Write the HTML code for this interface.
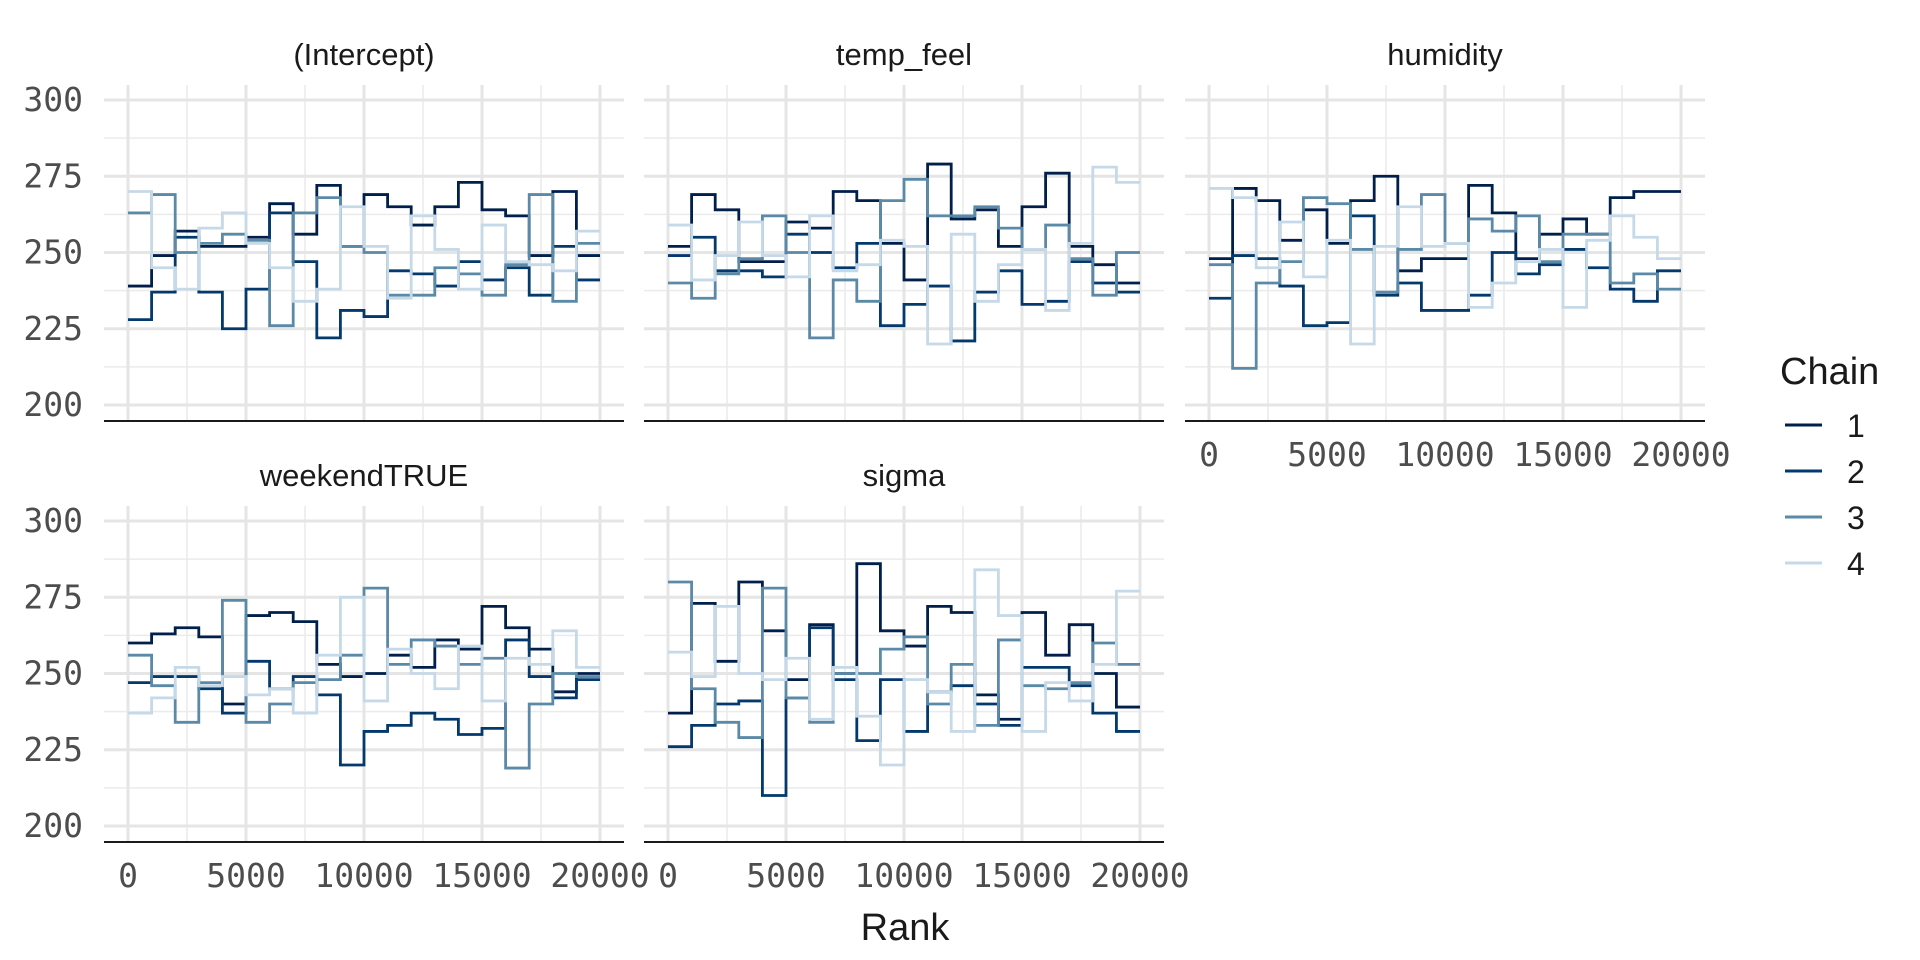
<!DOCTYPE html>
<html><head><meta charset="utf-8"><style>
html,body{margin:0;padding:0;background:#fff;width:1920px;height:960px;overflow:hidden}
svg text{font-family:"Liberation Sans",sans-serif}
.tick{font-family:"DejaVu Sans Mono","Liberation Mono",monospace;font-size:33px;fill:#4d4d4d}
</style></head><body>
<svg id="chart" width="1920" height="960" xmlns="http://www.w3.org/2000/svg"></svg>
<script>
const panelNames = ["(Intercept)","temp_feel","humidity","weekendTRUE","sigma"];
const chainLabels = ["1","2","3","4"];
const chainColors = ["#011f4b","#03396c","#5b8aa8","#c6d9e8"];
const yTicks = [200,225,250,275,300];
const xTicks = [0,5000,10000,15000,20000];
// values per panel per chain (20 bins of 1000 ranks)
const interceptC1 = [239,249,257,252,252,255,266,256,272,252,269,265,259,265,273,264,262,249,270,249];
const interceptC2 = [228,237,255,237,225,238,263,247,222,231,229,244,243,239,247,241,245,236,252,241];
const interceptC3 = [263,269,250,253,256,254,226,263,268,252,250,236,236,245,243,236,246,269,234,253];
const interceptC4 = [270,245,238,258,263,253,245,234,238,265,252,235,262,251,238,259,247,246,244,257];
const tempC1 = [252,269,264,247,247,260,258,270,267,253,241,279,261,264,252,265,276,252,246,240];
const tempC2 = [249,255,244,244,242,256,250,245,253,226,233,239,221,237,244,233,234,247,240,237];
const tempC3 = [240,235,243,248,262,250,222,241,234,267,274,262,262,265,258,251,259,248,236,250];
const tempC4 = [259,241,249,260,249,242,262,244,246,254,252,220,256,234,246,251,231,253,278,273];
const humC1 = [248,271,267,254,264,253,267,275,244,248,248,272,263,248,256,261,256,268,270,270];
const humC2 = [235,249,248,239,226,227,262,236,240,231,231,236,250,243,246,251,245,238,234,244];
const humC3 = [246,212,240,247,268,266,251,237,251,269,253,261,257,262,247,256,256,240,243,238];
const humC4 = [271,268,245,260,242,254,220,252,265,252,253,232,240,247,251,232,254,262,255,248];
const wkC1 = [260,263,265,262,240,269,270,267,253,249,250,256,252,261,258,272,265,258,244,250];
const wkC2 = [247,249,249,245,237,254,245,249,243,220,231,233,237,235,230,232,261,249,242,248];
const wkC3 = [256,246,234,247,274,234,240,247,248,256,278,253,261,259,253,255,219,240,250,249];
const wkC4 = [237,242,252,246,249,243,245,237,256,275,241,258,250,245,259,241,255,253,264,252];
const sgC1 = [237,273,254,280,264,248,266,250,286,264,259,272,270,243,235,270,256,266,250,239];
const sgC2 = [226,233,240,241,210,242,265,248,228,248,231,244,246,240,233,252,252,246,237,231];
const sgC3 = [280,245,234,229,278,242,234,250,250,258,262,240,253,233,261,246,245,247,260,253];
const sgC4 = [257,249,272,250,248,255,235,252,236,220,248,244,231,284,269,231,247,241,253,277];
const panelData = [
  [interceptC1,interceptC2,interceptC3,interceptC4],
  [tempC1,tempC2,tempC3,tempC4],
  [humC1,humC2,humC3,humC4],
  [wkC1,wkC2,wkC3,wkC4],
  [sgC1,sgC2,sgC3,sgC4]
];
const binWidth = 1000;

const NS="http://www.w3.org/2000/svg";
const svg=document.getElementById('chart');
function mk(tag,attrs,parent){const e=document.createElementNS(NS,tag);for(const k in attrs)e.setAttribute(k,attrs[k]);(parent||svg).appendChild(e);return e;}

const panels=[
  {x0:128,y300:100,left:104,right:624,top:85,axisY:421,ylab:true,xlab:false},
  {x0:668,y300:100,left:644,right:1164,top:85,axisY:421,ylab:false,xlab:false},
  {x0:1209,y300:100,left:1185,right:1705,top:85,axisY:421,ylab:false,xlab:true},
  {x0:128,y300:521,left:104,right:624,top:506,axisY:842,ylab:true,xlab:true},
  {x0:668,y300:521,left:644,right:1164,top:506,axisY:842,ylab:false,xlab:true}
];
const pxPerRank=472/20000, pxPerUnit=3.05;

panels.forEach((p,pi)=>{
  const g=mk('g',{});
  
  
  const xs=r=>p.x0+r*pxPerRank;
  const ys=v=>p.y300+(300-v)*pxPerUnit;
  for(let v=212.5;v<300;v+=25){const l=mk('line',{x1:p.left,x2:p.right,y1:ys(v),y2:ys(v),stroke:'#ebebeb','stroke-width':1.6},g);}
  for(let r=2500;r<20000;r+=5000){const l=mk('line',{x1:xs(r),x2:xs(r),y1:p.top,y2:p.axisY,stroke:'#ebebeb','stroke-width':1.6},g);}
  yTicks.forEach(v=>{const l=mk('line',{x1:p.left,x2:p.right,y1:ys(v),y2:ys(v),stroke:'#e5e5e5','stroke-width':3},g);});
  xTicks.forEach(r=>{const l=mk('line',{x1:xs(r),x2:xs(r),y1:p.top,y2:p.axisY,stroke:'#e5e5e5','stroke-width':3},g);});
  const t=mk('text',{x:(p.left+p.right)/2,y:p.top-20,'text-anchor':'middle','font-size':31,fill:'#1a1a1a'},g);
  t.textContent=panelNames[pi];
  
  
  panelData[pi].forEach((vals,ci)=>{
    let d='';
    vals.forEach((v,i)=>{const xa=xs(i*binWidth),xb=xs((i+1)*binWidth),y=ys(v);d+=(i===0?'M'+xa+','+y:'V'+y)+'H'+xb;});
    const path=mk('path',{d:d,fill:'none',stroke:chainColors[ci],'stroke-width':2.8},g);
    
    
  });
  const ax=mk('line',{x1:p.left,x2:p.right,y1:p.axisY,y2:p.axisY,stroke:'#1a1a1a','stroke-width':2},g);
  
  
  if(p.ylab){yTicks.forEach(v=>{const tl=mk('text',{x:83,y:ys(v)+11,'text-anchor':'end',class:'tick'},g);tl.textContent=String(v);});}
  if(p.xlab){xTicks.forEach(r=>{const tl=mk('text',{x:xs(r),y:p.axisY+45,'text-anchor':'middle',class:'tick'},g);tl.textContent=String(r);});}
});

const xt=mk('text',{x:905,y:940,'text-anchor':'middle','font-size':38,fill:'#1a1a1a'});
xt.textContent='Rank';



const lg=mk('g',{});


const lt=mk('text',{x:1780,y:384,'font-size':38,fill:'#1a1a1a'},lg);
lt.textContent='Chain';


const keyY=[425,471,517,563];
chainLabels.forEach((c,i)=>{
  const l=mk('line',{x1:1785,x2:1822,y1:keyY[i],y2:keyY[i],stroke:chainColors[i],'stroke-width':3},lg);
  
  
  const tx=mk('text',{x:1847,y:keyY[i]+12,'font-size':32,fill:'#1a1a1a'},lg);
  tx.textContent=c;
  
  
});
</script>
</body></html>
